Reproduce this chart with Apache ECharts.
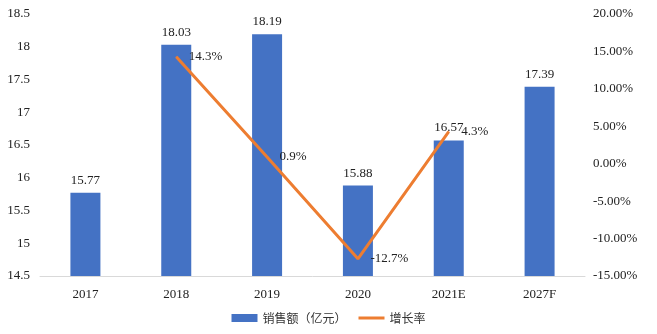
<!DOCTYPE html>
<html>
<head>
<meta charset="utf-8">
<script src="https://cdn.jsdelivr.net/npm/echarts@6/dist/echarts.min.js"></script>
<style>
  html, body { margin: 0; padding: 0; background: #fff; }
  #chart { width: 657px; height: 334px; }
</style>
</head>
<body>
<div id="chart"></div>
<script>
// Sales (100 million yuan) and year-on-year growth rate
const categories = ['2017', '2018', '2019', '2020', '2021E', '2027F'];
const salesValues = [15.77, 18.03, 18.19, 15.88, 16.57, 17.39];
const growthValues = [null, 14.3, 0.9, -12.7, 4.3, null];
const salesName = '销售额（亿元）';
const growthName = '增长率';

const serif = '"Liberation Serif", "Times New Roman", serif';
const chart = echarts.init(document.getElementById('chart'), null, { renderer: 'canvas' });

chart.setOption({
  animation: false,
  backgroundColor: '#ffffff',
  textStyle: { fontFamily: serif },
  grid: { left: 40, right: 72, top: 14, bottom: 58 },
  legend: {
    bottom: 5,
    left: 'center',
    itemWidth: 26,
    itemHeight: 8,
    itemGap: 12,
    textStyle: { fontFamily: '"Noto Sans CJK SC", serif', fontSize: 12, color: '#333' },
    data: [
      { name: salesName, icon: 'rect' },
      { name: growthName, icon: 'path://M0,0 H26 V3 H0 Z' }
    ]
  },
  xAxis: {
    type: 'category',
    data: categories,
    axisTick: { show: false },
    axisLine: { onZero: false, lineStyle: { color: '#d9d9d9' } },
    axisLabel: { color: '#222', fontSize: 13, fontFamily: serif, margin: 12 }
  },
  yAxis: [
    {
      type: 'value',
      min: 14.5, max: 18.5, interval: 0.5,
      splitLine: { show: false },
      axisLine: { show: false },
      axisTick: { show: false },
      axisLabel: { color: '#222', fontSize: 13, fontFamily: serif, margin: 10 }
    },
    {
      type: 'value',
      min: -15, max: 20, interval: 5,
      splitLine: { show: false },
      axisLine: { show: false },
      axisTick: { show: false },
      axisLabel: {
        color: '#222', fontSize: 13, fontFamily: serif, margin: 8,
        formatter: v => v.toFixed(2) + '%'
      }
    }
  ],
  series: [
    {
      name: salesName,
      type: 'bar',
      data: salesValues,
      barWidth: 30,
      itemStyle: { color: '#4472C4' },
      label: {
        show: true, position: 'top', distance: 6,
        color: '#222', fontSize: 13, fontFamily: serif,
        formatter: p => p.value.toFixed(2)
      }
    },
    {
      name: growthName,
      type: 'line',
      yAxisIndex: 1,
      data: growthValues,
      showSymbol: true,
      symbol: 'circle',
      symbolSize: 1,
      lineStyle: { color: '#ED7D31', width: 3 },
      itemStyle: { color: '#ED7D31' },
      label: {
        show: true, position: 'right', distance: 12,
        color: '#222', fontSize: 13, fontFamily: serif,
        formatter: p => p.value == null ? '' : p.value.toFixed(1) + '%'
      }
    }
  ]
});
</script>
</body>
</html>
